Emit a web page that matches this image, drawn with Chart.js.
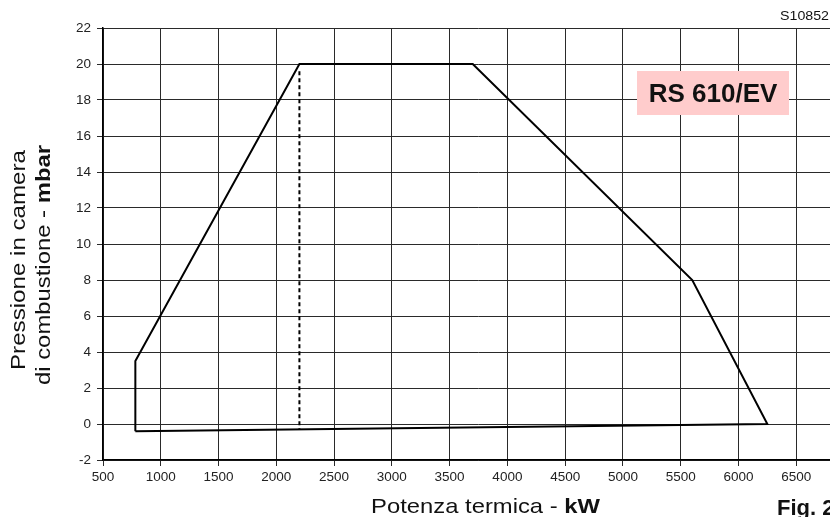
<!DOCTYPE html>
<html>
<head>
<meta charset="utf-8">
<script src="https://cdn.jsdelivr.net/npm/chart.js@4"></script>
<style>
  html, body { margin: 0; padding: 0; background: #fff; overflow: hidden; }
  #wrap { width: 830px; height: 517px; overflow: hidden; }
</style>
</head>
<body>
<div id="wrap"><canvas id="chart" width="880" height="517"></canvas></div>
<script>
// working envelope (kW, mbar)
const envelopeKW = [780, 780, 2200, 3700, 5600, 6250, 780];
const envelopeMbar = [-0.4, 3.5, 20, 20, 8, 0, -0.4];
// dashed marker line
const dashKW = [2200, 2200];
const dashMbar = [19.6, -0.3];

const xMin = 500, xMax = 7000, xStep = 500;
const yMin = -2, yMax = 22, yStep = 2;

const modelLabel = 'RS 610/EV';
const codeLabel = 'S10852';
const figLabel = 'Fig. 2';

const toPoints = (xs, ys) => xs.map((x, i) => ({ x: x, y: ys[i] }));

const gridColor = '#2a2a2a';
const tickFont = { family: 'Liberation Sans, Arial, sans-serif', size: 13.5 };

// draws mixed normal/bold runs, stretched to a target width
function drawRuns(ctx, runs, size, targetW) {
    let total = 0;
    runs.forEach(r => {
        ctx.font = (r[1] ? 'bold ' : '') + size + 'px "Liberation Sans", Arial, sans-serif';
        total += ctx.measureText(r[0]).width;
    });
    ctx.scale(targetW / total, 1);
    let x = 0;
    runs.forEach(r => {
        ctx.font = (r[1] ? 'bold ' : '') + size + 'px "Liberation Sans", Arial, sans-serif';
        ctx.fillText(r[0], x, 0);
        x += ctx.measureText(r[0]).width;
    });
}

const labelsPlugin = {
    id: 'labels',
    afterDraw(chart) {
        const ctx = chart.ctx;
        ctx.save();
        ctx.fillStyle = '#111';
        ctx.textBaseline = 'alphabetic';
        ctx.textAlign = 'left';

        // x title
        ctx.save();
        ctx.translate(371, 513);
        drawRuns(ctx, [['Potenza termica - ', false], ['kW', true]], 21, 229);
        ctx.restore();

        // y title, two lines
        ctx.save();
        ctx.translate(25, 370);
        ctx.rotate(-Math.PI / 2);
        drawRuns(ctx, [['Pressione in camera', false]], 21, 220);
        ctx.restore();
        ctx.save();
        ctx.translate(50, 385);
        ctx.rotate(-Math.PI / 2);
        drawRuns(ctx, [['di combustione - ', false], ['mbar', true]], 21, 240);
        ctx.restore();

        // code top right
        ctx.save();
        ctx.translate(780, 20);
        drawRuns(ctx, [[codeLabel, false]], 13, 49);
        ctx.restore();

        // figure label
        ctx.font = 'bold 22px "Liberation Sans", Arial, sans-serif';
        ctx.fillText(figLabel, 777, 515);

        // model box
        ctx.fillStyle = 'rgb(255, 204, 204)';
        ctx.fillRect(637, 71, 152, 44);
        ctx.fillStyle = '#111';
        ctx.font = 'bold 26px "Liberation Sans", Arial, sans-serif';
        ctx.textAlign = 'center';
        ctx.fillText(modelLabel, 713, 102);
        ctx.restore();
    }
};

new Chart(document.getElementById('chart'), {
    type: 'scatter',
    data: {
        datasets: [
            {
                data: toPoints(envelopeKW, envelopeMbar),
                showLine: true,
                borderColor: '#000',
                borderWidth: 2,
                pointRadius: 0,
                fill: false
            },
            {
                data: toPoints(dashKW, dashMbar),
                showLine: true,
                borderColor: '#000',
                borderWidth: 2,
                borderDash: [4, 3],
                pointRadius: 0,
                fill: false
            }
        ]
    },
    options: {
        responsive: false,
        animation: false,
        layout: { padding: { left: 0, right: 26, top: 28, bottom: 0 } },
        scales: {
            x: {
                type: 'linear',
                min: xMin,
                max: xMax,
                afterFit: s => { s.height = 57; },
                grid: { color: gridColor, lineWidth: 1, tickLength: 6 },
                border: { color: '#000', width: 1.5 },
                ticks: { stepSize: xStep, color: '#222', font: tickFont, padding: 3, maxRotation: 0, callback: v => String(v) }
            },
            y: {
                min: yMin,
                max: yMax,
                afterFit: s => { s.width = 103; },
                grid: { color: gridColor, lineWidth: 1, tickLength: 6 },
                border: { color: '#000', width: 1.5 },
                ticks: { stepSize: yStep, color: '#222', font: tickFont, padding: 6, callback: v => String(v) }
            }
        },
        plugins: {
            legend: { display: false },
            tooltip: { enabled: false }
        }
    },
    plugins: [labelsPlugin]
});
</script>
</body>
</html>
